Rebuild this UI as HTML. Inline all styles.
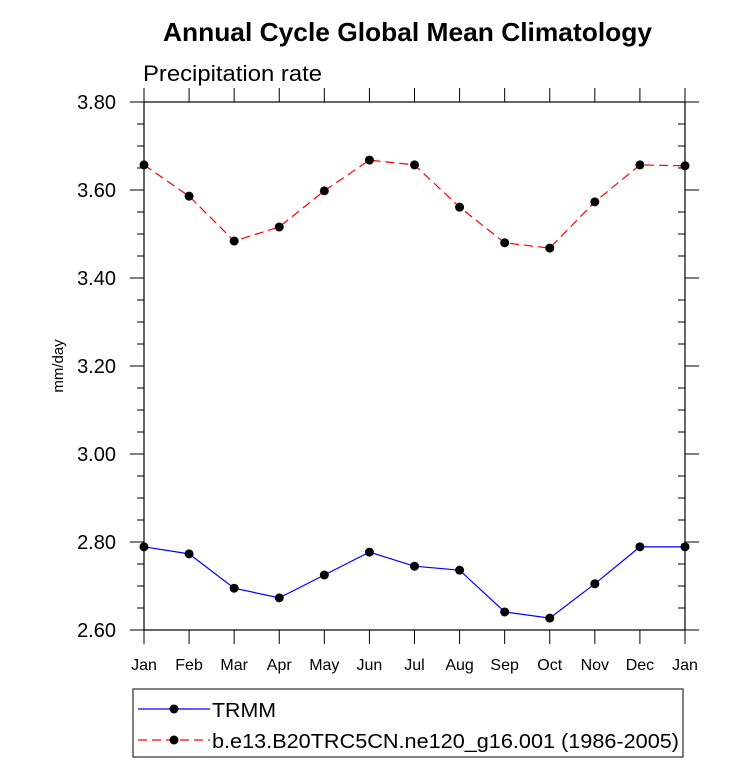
<!DOCTYPE html>
<html><head><meta charset="utf-8"><style>
body{margin:0;background:#fff;font-family:"Liberation Sans",sans-serif}
</style></head><body>
<svg id="c" width="733" height="766" xmlns="http://www.w3.org/2000/svg" font-family="Liberation Sans, sans-serif">
<text x="163" y="41" font-size="26" font-weight="bold" textLength="489" lengthAdjust="spacingAndGlyphs">Annual Cycle Global Mean Climatology</text>
<text x="143" y="81" font-size="22" textLength="179" lengthAdjust="spacingAndGlyphs">Precipitation rate</text>
<text transform="translate(63,366) rotate(-90)" text-anchor="middle" font-size="15">mm/day</text>
<g id="axes"></g>
<g id="series"></g>
<g>
<rect x="133" y="689" width="550" height="68" fill="#fff" stroke="#000" stroke-width="1"/>
<line x1="138" y1="709" x2="210" y2="709" stroke="#00f" stroke-width="1.2"/>
<circle cx="174" cy="709" r="4.5" fill="#000"/>
<text x="212" y="717" font-size="20" textLength="64" lengthAdjust="spacingAndGlyphs">TRMM</text>
<line x1="138" y1="740" x2="210" y2="740" stroke="#f00" stroke-width="1.2" stroke-dasharray="9,5"/>
<circle cx="174" cy="740" r="4.5" fill="#000"/>
<text x="212" y="748" font-size="20" textLength="467" lengthAdjust="spacingAndGlyphs">b.e13.B20TRC5CN.ne120_g16.001 (1986-2005)</text>
</g>
</svg>
<script>
const months=["Jan","Feb","Mar","Apr","May","Jun","Jul","Aug","Sep","Oct","Nov","Dec","Jan"];
const trmm=[2.789,2.773,2.695,2.673,2.725,2.777,2.745,2.736,2.641,2.627,2.705,2.789,2.789];
const model=[3.657,3.586,3.484,3.516,3.598,3.668,3.657,3.561,3.480,3.468,3.573,3.657,3.655];
const yTicks=[2.6,2.8,3.0,3.2,3.4,3.6,3.8];
const L=144,R=685,T=102,B=630,ymin=2.6,ymax=3.8;
const xs=i=>L+(R-L)*i/(months.length-1);
const ys=v=>B-(v-ymin)/(ymax-ymin)*(B-T);
const NS="http://www.w3.org/2000/svg";
function mk(tag,attrs,parent){const e=document.createElementNS(NS,tag);for(const k in attrs)e.setAttribute(k,attrs[k]);parent.appendChild(e);return e;}
const ax=document.getElementById('axes');
const frame=mk('rect',{x:L,y:T,width:R-L,height:B-T,fill:'none',stroke:'#000','stroke-width':1.2},ax);


for(let k=0;k<=24;k++){
  const v=ymin+k*0.05;const y=ys(v);const major=(k%4===0);
  if(major){
    mk('line',{x1:L-14,y1:y,x2:L,y2:y,stroke:'#000','stroke-width':1},ax);
    mk('line',{x1:R,y1:y,x2:R+14,y2:y,stroke:'#000','stroke-width':1},ax);
  }else{
    mk('line',{x1:L-7,y1:y,x2:L,y2:y,stroke:'#000','stroke-width':1},ax);
    mk('line',{x1:R-7,y1:y,x2:R,y2:y,stroke:'#000','stroke-width':1},ax);
  }
}
yTicks.forEach(v=>{
  const t=mk('text',{x:L-28,y:ys(v)+7,'text-anchor':'end','font-size':20},ax);
  t.textContent=v.toFixed(2);
  
  
});
months.forEach((m,i)=>{
  const x=xs(i);
  mk('line',{x1:x,y1:B,x2:x,y2:B+14,stroke:'#000','stroke-width':1},ax);
  mk('line',{x1:x,y1:T-14,x2:x,y2:T,stroke:'#000','stroke-width':1},ax);
  const t=mk('text',{x:x,y:B+40,'text-anchor':'middle','font-size':16},ax);
  t.textContent=m;
  
  
});
const sg=document.getElementById('series');
function draw(vals,color,dash,name){
  const p=mk('polyline',{points:vals.map((v,i)=>xs(i)+','+ys(v)).join(' '),fill:'none',stroke:color,'stroke-width':1.2},sg);
  if(dash)p.setAttribute('stroke-dasharray',dash);
  
  
  vals.forEach((v,i)=>{
    const c=mk('circle',{cx:xs(i),cy:ys(v),r:4.5,fill:'#000'},sg);
    
    
  });
}
draw(trmm,'#00f',null,'trmm');
draw(model,'#f00','9,5','model');
</script>
</body></html>
